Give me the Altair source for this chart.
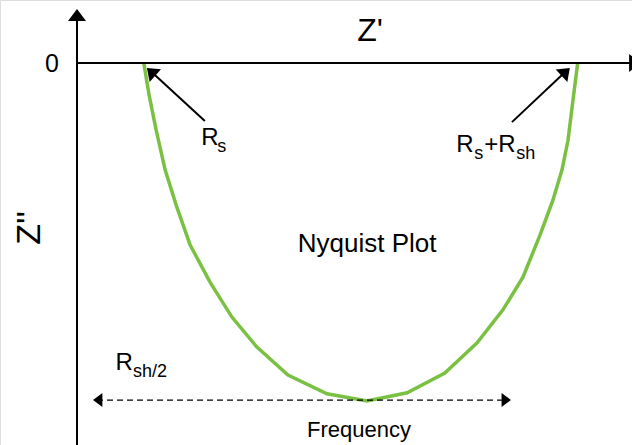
import altair as alt
import pandas as pd

FONT = "Liberation Sans"
GREEN = "#7AC143"
INK = "black"

# Impedance spectrum of the cell (ohms): real part Z' and imaginary part Z''
z_real = [20.0, 21.6, 23.7, 26.4, 29.7, 33.9, 39.8, 46.4, 53.9, 63.2, 74.9,
          86.9, 98.9, 110.2, 119.8, 127.6, 133.6, 138.7, 142.6, 145.3, 147.1,
          148.6, 150.0]
z_imag = [0.0, -6.2, -12.9, -20.6, -27.4, -35.1, -42.2, -49.0, -54.8, -60.2,
          -63.8, -65.2, -63.6, -59.8, -54.0, -47.6, -41.3, -33.2, -26.4, -20.6,
          -14.9, -7.1, 0.0]

R_S = 20.0      # series resistance
R_SH = 130.0    # shunt resistance

curve = pd.DataFrame({"re": z_real, "im": z_imag})

xs = alt.Scale(domain=[-23.07, 166.27], nice=False, zero=False)
ys = alt.Scale(domain=[-73.67, 12.15], nice=False, zero=False)


def X(field="x"):
    return alt.X(f"{field}:Q", scale=xs, axis=None)


def Y(field="y"):
    return alt.Y(f"{field}:Q", scale=ys, axis=None)


# Semicircle
line = alt.Chart(curve).mark_line(color=GREEN, strokeWidth=3.5).encode(
    x=alt.X("re:Q", scale=xs, axis=None),
    y=alt.Y("im:Q", scale=ys, axis=None),
    order=alt.Order("re:Q"),
)

# Coordinate axes and the two pointer shafts
shafts = pd.DataFrame({
    "x":  [0.0, 0.0, 38.3, R_S + R_SH - 19.7],
    "x2": [0.0, 167.0, 22.6, 146.0],
    "y":  [-80.0, 0.0, -11.2, -11.4],
    "y2": [9.3, 0.0, -1.9, -1.9],
})
rules = alt.Chart(shafts).mark_rule(color=INK, strokeWidth=2).encode(
    x=X(), x2="x2:Q", y=Y(), y2="y2:Q"
)

# Dashed span along the frequency direction
span = pd.DataFrame({"x": [6.0], "x2": [128.6], "y": [-R_SH / 2], "y2": [-R_SH / 2]})
dashed = alt.Chart(span).mark_rule(color=INK, strokeWidth=1.3, strokeDash=[6, 4]).encode(
    x=X(), x2="x2:Q", y=Y(), y2="y2:Q"
)

# Arrowheads
heads = pd.DataFrame({
    "x":     [0.0, 167.2, 22.2, 146.4, 6.2, 128.6],
    "y":     [9.26, 0.0, -1.7, -1.7, -R_SH / 2, -R_SH / 2],
    "angle": [0, 90, 312, 47, 270, 90],
    "size":  [324, 324, 289, 289, 196, 196],
})
arrowheads = alt.Chart(heads).mark_point(
    shape="M0,-0.667L1,0.667L-1,0.667Z", filled=True, color=INK, opacity=1, strokeWidth=0
).encode(
    x=X(), y=Y(),
    angle=alt.Angle("angle:Q", scale=None),
    size=alt.Size("size:Q", scale=None),
)

# Centered captions
centered = pd.DataFrame({
    "x": [87.8, 86.9, 84.5],
    "y": [6.2, -34.9, -70.8],
    "text": ["Z'", "Nyquist Plot", "Frequency"],
    "size": [32, 26, 22],
})
captions = alt.Chart(centered).mark_text(
    font=FONT, color=INK, align="center", baseline="middle"
).encode(x=X(), y=Y(), text="text:N", size=alt.Size("size:Q", scale=None))

zero = alt.Chart(pd.DataFrame({"x": [-5.4], "y": [-0.2], "text": ["0"]})).mark_text(
    font=FONT, color=INK, fontSize=25, align="right", baseline="middle"
).encode(x=X(), y=Y(), text="text:N")

ylabel = alt.Chart(pd.DataFrame({"x": [-14.1], "y": [-31.8], "text": ["Z''"]})).mark_text(
    font=FONT, color=INK, fontSize=34, align="center", baseline="middle", angle=270
).encode(x=X(), y=Y(), text="text:N")

# Resistance labels with subscripts
sub = pd.DataFrame({
    "x": [37.2, 42.0, 113.6, 119.0, 122.0, 131.6, 11.5, 16.8],
    "y": [-15.8, -17.2, -17.2, -18.5, -17.2, -18.5, -59.2, -60.6],
    "text": ["R", "s", "R", "s", "+R", "sh", "R", "sh/2"],
    "size": [24, 18, 24, 18, 24, 18, 24, 18],
})
resist = alt.Chart(sub).mark_text(
    font=FONT, color=INK, align="left", baseline="alphabetic"
).encode(x=X(), y=Y(), text="text:N", size=alt.Size("size:Q", scale=None))

chart = alt.layer(
    line, rules, dashed, arrowheads, captions, zero, ylabel, resist
).properties(
    width=632, height=445, autosize="none", padding=0
).configure_view(stroke=None).configure(background="white")

chart.save("out.html", embed_options={"renderer": "svg", "actions": False})
